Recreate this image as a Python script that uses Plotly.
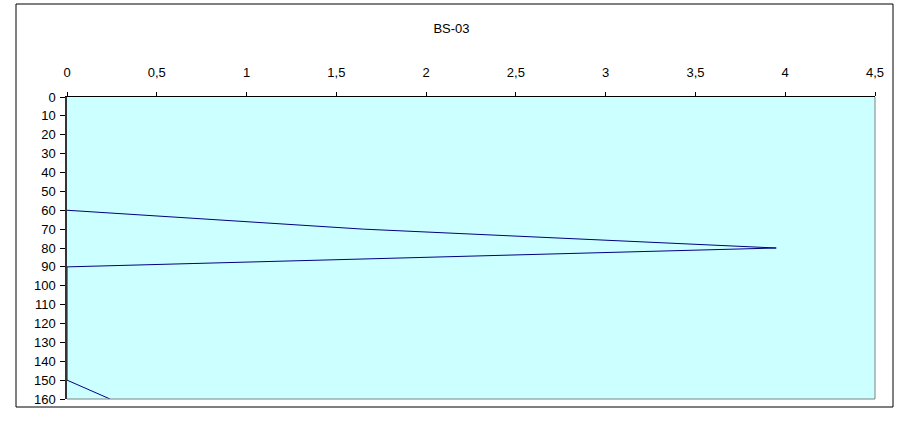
import plotly.graph_objects as go

depth = [60, 70, 80, 90, 100, 110, 120, 130, 140, 150, 160]
value = [0, 1.65, 3.95, 0, 0, 0, 0, 0, 0, 0, 0.24]
x_ticks = [0, 0.5, 1, 1.5, 2, 2.5, 3, 3.5, 4, 4.5]
y_ticks = list(range(0, 161, 10))
title = "BS-03"

W, H = 903, 425
L, R, T, B = 67, 875, 97, 399

def px(x):
    return (x - L) / (R - L)

def py(y):
    return (B - y) / (B - T)

fig = go.Figure()
fig.add_trace(go.Scatter(x=value, y=depth, mode="lines",
                         line=dict(color="#000080", width=1),
                         showlegend=False, hoverinfo="skip"))

fig.update_layout(
    width=W, height=H,
    margin=dict(l=L, r=W - R, t=T, b=H - B),
    paper_bgcolor="white",
    plot_bgcolor="#CCFFFF",
    separators=", ",
    font=dict(family="Liberation Sans, Arial, sans-serif", size=13, color="black"),
    title=dict(text=title, x=0.5, xanchor="center", y=1 - 28 / H, yanchor="middle",
               font=dict(size=13)),
    xaxis=dict(side="top", range=[0, 4.5], tickvals=x_ticks,
               ticktext=[str(v).replace(".", ",") for v in x_ticks],
               showgrid=False, zeroline=False, showline=True, linecolor="black",
               linewidth=1, ticks="outside", ticklen=4, tickcolor="black",
               ticklabelstandoff=10, fixedrange=True),
    yaxis=dict(range=[160, 0], tickvals=y_ticks, showgrid=False, zeroline=False,
               showline=True, linecolor="#333333", linewidth=1.5, ticks="outside",
               ticklen=5, tickcolor="black", ticklabelstandoff=2, fixedrange=True),
    shapes=[
        dict(type="rect", xref="paper", yref="paper",
             x0=px(16), x1=px(893), y0=py(407), y1=py(4),
             line=dict(color="black", width=1), layer="below"),
        dict(type="line", xref="paper", yref="paper", x0=1, x1=1, y0=0, y1=1,
             line=dict(color="#808080", width=1)),
        dict(type="line", xref="paper", yref="paper", x0=0, x1=1, y0=0, y1=0,
             line=dict(color="#808080", width=1)),
    ],
)

fig.write_html("out.html", config={"displayModeBar": False},
               post_script="document.body.style.margin='0';")
